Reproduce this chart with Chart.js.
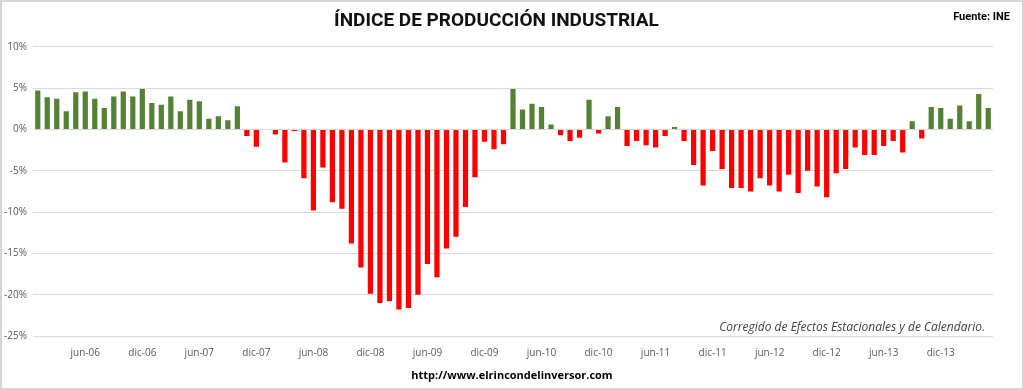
<!DOCTYPE html>
<html>
<head>
<meta charset="utf-8">
<script src="https://cdn.jsdelivr.net/npm/chart.js@4/dist/chart.umd.min.js"></script>
<style>
  html, body { margin: 0; padding: 0; background: #ffffff; }
  #wrap { width: 1024px; height: 390px; position: relative; }
  canvas { display: block; }
</style>
</head>
<body>
<div id="wrap"><canvas id="c" width="1024" height="390"></canvas></div>
<script>
// Month labels (Jan 2006 .. May 2014)
const months = ["ene","feb","mar","abr","may","jun","jul","ago","sep","oct","nov","dic"];
const years = ["06","07","08","09","10","11","12","13","14"];
const categories = [];
years.forEach(function (y) { months.forEach(function (m) { categories.push(m + "-" + y); }); });
categories.length = 101;

// Year-on-year change of the Industrial Production Index (%)
const v2006 = [4.7, 3.9, 3.7, 2.2, 4.5, 4.6, 3.7, 2.6, 4.0, 4.6, 4.0, 4.9];
const v2007 = [3.2, 3.0, 4.0, 2.2, 3.6, 3.4, 1.3, 1.6, 1.1, 2.8, -0.8, -2.1];
const v2008 = [0.0, -0.6, -4.0, -0.2, -5.9, -9.8, -4.6, -8.8, -9.6, -13.8, -16.7, -19.9];
const v2009 = [-21.0, -20.8, -21.8, -21.6, -20.0, -16.3, -17.9, -14.4, -13.0, -9.4, -5.8, -1.5];
const v2010 = [-2.4, -1.8, 4.9, 2.4, 3.1, 2.7, 0.6, -0.7, -1.4, -1.0, 3.6, -0.5];
const v2011 = [1.6, 2.7, -2.0, -1.4, -1.9, -2.2, -0.8, 0.3, -1.4, -4.3, -6.8, -2.6];
const v2012 = [-4.8, -7.1, -7.1, -7.5, -5.9, -6.8, -7.5, -5.5, -7.7, -5.0, -6.9, -8.2];
const v2013 = [-5.3, -4.8, -2.2, -3.1, -3.1, -2.0, -1.4, -2.8, 1.0, -1.1, 2.7, 2.6];
const v2014 = [1.3, 2.9, 1.0, 4.3, 2.6];
const values = [].concat(v2006, v2007, v2008, v2009, v2010, v2011, v2012, v2013, v2014);

const shownTicks = ["jun", "dic"];
const yTickMin = -25, yTickMax = 10, yTickStep = 5;

const titleText = "ÍNDICE DE PRODUCCIÓN INDUSTRIAL";
const sourceText = "Fuente: INE";
const noteText = "Corregido de Efectos Estacionales y de Calendario.";
const urlText = "http://www.elrincondelinversor.com";

const GREEN = "#548235";
const RED = "#ff0000";

const extras = {
  id: "extras",
  afterDraw: function (chart) {
    const ctx = chart.ctx;
    const ca = chart.chartArea;
    ctx.save();
    ctx.fillStyle = "#000000";
    ctx.font = "bold 11px Roboto, 'Open Sans', sans-serif";
    ctx.textAlign = "right";
    ctx.textBaseline = "middle";
    ctx.fillText(sourceText, 1010, 17);

    ctx.fillStyle = "#404040";
    ctx.font = "italic 12px 'Open Sans', sans-serif";
    ctx.textAlign = "right";
    ctx.fillText(noteText, ca.right - 8, 328);

    ctx.fillStyle = "#000000";
    ctx.font = "bold 11px 'Open Sans', sans-serif";
    ctx.textAlign = "center";
    ctx.fillText(urlText, 512, 376);

    ctx.strokeStyle = "#d6d6d6";
    ctx.lineWidth = 2;
    ctx.strokeRect(1, 1, chart.width - 2, chart.height - 2);
    ctx.restore();
  }
};

new Chart(document.getElementById("c"), {
  type: "bar",
  data: {
    labels: categories,
    datasets: [{
      data: values,
      backgroundColor: function (c) { return c.raw >= 0 ? GREEN : RED; },
      borderWidth: 0,
      barPercentage: 0.55,
      categoryPercentage: 1.0
    }]
  },
  options: {
    responsive: false,
    animation: false,
    layout: { padding: { left: 0, right: 31, top: 0, bottom: 0 } },
    plugins: {
      legend: { display: false },
      tooltip: { enabled: false },
      title: {
        display: true,
        text: titleText,
        color: "#111111",
        font: { family: "Roboto, 'Open Sans', sans-serif", size: 19, weight: "bold" },
        padding: { top: 10, bottom: 14 }
      }
    },
    scales: {
      x: {
        grid: { display: false, drawTicks: false },
        border: { display: false },
        afterFit: function (s) { s.height = 54; },
        ticks: {
          autoSkip: false,
          maxRotation: 0,
          minRotation: 0,
          padding: 11,
          color: "#595959",
          font: { family: "'Open Sans', sans-serif", size: 10 },
          callback: function (val, i) {
            const lab = categories[i];
            return shownTicks.indexOf(lab.slice(0, 3)) >= 0 ? lab : null;
          }
        }
      },
      y: {
        min: yTickMin,
        max: yTickMax,
        afterFit: function (s) { s.width = 33; },
        grid: { color: "#d9d9d9", drawTicks: false, lineWidth: 1 },
        border: { display: false },
        ticks: {
          stepSize: yTickStep,
          padding: 6,
          color: "#595959",
          font: { family: "'Open Sans', sans-serif", size: 10 },
          callback: function (v) { return v + "%"; }
        }
      }
    }
  },
  plugins: [extras]
});
</script>
</body>
</html>
